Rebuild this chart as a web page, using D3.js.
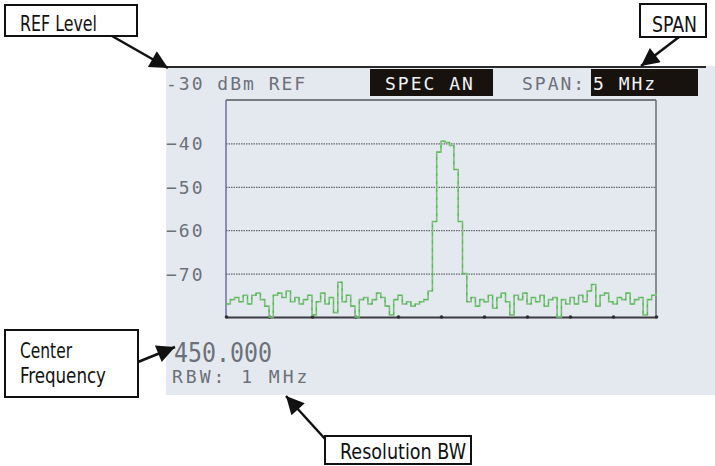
<!DOCTYPE html>
<html>
<head>
<meta charset="utf-8">
<script src="https://cdn.jsdelivr.net/npm/d3@7"></script>
<style>
  body { margin: 0; background: #fff; }
  .lcd { font-family: "DejaVu Sans Mono", monospace; fill: #6c7079; }
  .callout { font-family: "Liberation Sans Narrow", "DejaVu Sans Condensed", "Roboto", sans-serif; font-size: 22px; fill: #111; }
</style>
</head>
<body>
<svg id="chart" width="715" height="466"></svg>
<script>
// sweep: 450 MHz centre, 5 MHz span, 101 bins
const centerMHz = 450;
const spanMHz = 5;
const binCount = 101;

// trace level per bin (dBm)
const traceDbm = [
  -77, -76, -75.5, -76.5, -75, -77, -75, -74.5, -76, -77.5,
  -80, -75, -74.5, -75.5, -74, -76.5, -75.5, -77, -76, -75,
  -79.5, -76.5, -74.5, -77, -75.5, -79, -72, -76.5, -75, -77.5,
  -80, -76, -75.5, -77, -76, -74.5, -75.5, -77.5, -79.5, -76,
  -75, -77, -76.5, -77.5, -77, -76.5, -76, -74, -58, -42,
  -39.5, -39.8, -40.5, -46, -58, -70, -76.5, -75.5, -77.5, -76,
  -76.5, -75, -78, -75.5, -74.5, -76.5, -79.5, -75, -76, -74.5,
  -77, -75.5, -76.5, -75, -77.5, -76, -75.5, -80, -76, -77,
  -75.5, -77, -75, -76.5, -74, -72.5, -77.5, -75, -74.5, -76.5,
  -77, -75.5, -76, -74.5, -77, -76, -75.5, -79.5, -76, -75,
  -74.5
];

const refLevel = -30;
const gridLevels = [-40, -50, -60, -70];
const bottomLevel = -80;
const divTicks = [447.5, 448, 448.5, 449, 449.5, 450, 450.5, 451, 451.5, 452, 452.5];

const headerText = "-30 dBm REF";
const modeText = "SPEC AN";
const spanText = "SPAN:";
const spanValue = "5 MHz";
const centerText = "450.000";
const rbwText = "RBW: 1 MHz";

const freqs = d3.range(binCount).map(i => centerMHz - spanMHz / 2 + i * spanMHz / (binCount - 1));
const points = freqs.map((f, i) => ({ f: f, db: traceDbm[i] }));

const svg = d3.select("#chart");

// screen
svg.append("rect")
  .attr("x", 166).attr("y", 66)
  .attr("width", 549).attr("height", 329)
  .style("fill", "#e4e9ef");
svg.append("line")
  .attr("x1", 166).attr("x2", 706)
  .attr("y1", 67).attr("y2", 67)
  .style("stroke", "#2a2a2a").style("stroke-width", "2px");

const plot = { left: 226, right: 656, top: 100, bottom: 317 };
const x = d3.scaleLinear()
  .domain([centerMHz - spanMHz / 2, centerMHz + spanMHz / 2])
  .range([plot.left, plot.right]);
const y = d3.scaleLinear()
  .domain([bottomLevel, refLevel])
  .range([plot.bottom, plot.top]);

// header bar
svg.append("text").attr("class", "lcd")
  .attr("x", 166).attr("y", 90)
  .style("font-size", "18px").style("letter-spacing", "2px")
  .text(headerText);
svg.append("rect")
  .attr("x", 370).attr("y", 69).attr("width", 123).attr("height", 27)
  .style("fill", "#18120e");
svg.append("text").attr("class", "lcd")
  .attr("x", 385).attr("y", 90)
  .style("font-size", "18px").style("letter-spacing", "2px")
  .style("fill", "#f2f2f2")
  .text(modeText);
svg.append("rect")
  .attr("x", 591).attr("y", 69).attr("width", 107).attr("height", 27)
  .style("fill", "#18120e");
svg.append("text").attr("class", "lcd")
  .attr("x", 522).attr("y", 90)
  .style("font-size", "18px").style("letter-spacing", "2px")
  .text(spanText);
svg.append("text").attr("class", "lcd")
  .attr("x", 593).attr("y", 90)
  .style("font-size", "18px").style("letter-spacing", "2px")
  .style("fill", "#f2f2f2")
  .text(spanValue);

// graticule frame
svg.append("line")
  .attr("x1", plot.left).attr("x2", plot.right)
  .attr("y1", plot.top).attr("y2", plot.top)
  .style("stroke", "#55575d").style("stroke-width", "1.5px");
svg.append("line")
  .attr("x1", plot.left).attr("x2", plot.left)
  .attr("y1", plot.top).attr("y2", plot.bottom)
  .style("stroke", "#6d6ea0").style("stroke-width", "1.5px");
svg.append("line")
  .attr("x1", plot.right).attr("x2", plot.right)
  .attr("y1", plot.top).attr("y2", plot.bottom)
  .style("stroke", "#6a6c72").style("stroke-width", "1.5px");

// level grid + labels
const yAxis = svg.append("g")
  .attr("transform", `translate(${plot.left},0)`)
  .call(d3.axisLeft(y).tickValues(gridLevels).tickSize(-(plot.right - plot.left)).tickFormat(d3.format("d")));
yAxis.select(".domain").remove();
yAxis.selectAll(".tick line")
  .style("stroke", "#65676d").style("stroke-width", "1.2px").style("stroke-dasharray", "1.5,1");
yAxis.selectAll(".tick text")
  .attr("class", "lcd")
  .attr("x", -60).attr("dy", "0.36em")
  .attr("text-anchor", "start")
  .style("font-size", "18px").style("letter-spacing", "2px")
  .style("font-family", null);

// frequency axis
const xAxis = svg.append("g")
  .attr("transform", `translate(0,${plot.bottom})`)
  .call(d3.axisBottom(x).tickValues(divTicks).tickSize(0).tickFormat(""));
xAxis.select(".domain").style("stroke", "#3a3b40").style("stroke-width", "2px");
xAxis.selectAll(".tick").append("circle")
  .attr("r", 1.8).style("fill", "#2e2f33");

// trace
const line = d3.line()
  .x(d => x(d.f))
  .y(d => y(d.db))
  .curve(d3.curveStepAfter);
svg.append("path")
  .datum(points)
  .attr("d", line)
  .style("fill", "none")
  .style("stroke", "#80bd80")
  .style("stroke-width", "1.6px");
svg.append("path")
  .datum(points)
  .attr("d", line)
  .style("fill", "none")
  .style("stroke", "#3fc23f")
  .style("stroke-width", "1px")
  .style("stroke-dasharray", "3,5");

// bottom readouts
svg.append("text").attr("class", "lcd")
  .attr("x", 174).attr("y", 362)
  .attr("textLength", 98).attr("lengthAdjust", "spacingAndGlyphs")
  .style("font-size", "27px")
  .text(centerText);
svg.append("text").attr("class", "lcd")
  .attr("x", 172).attr("y", 383)
  .style("font-size", "18px").style("letter-spacing", "3px")
  .text(rbwText);

// callouts
const defs = svg.append("defs");
defs.append("marker")
  .attr("id", "head")
  .attr("viewBox", "0 0 10 10")
  .attr("refX", 10).attr("refY", 5)
  .attr("markerUnits", "userSpaceOnUse")
  .attr("markerWidth", 22).attr("markerHeight", 18)
  .attr("orient", "auto")
  .append("path").attr("d", "M0,0L10,5L0,10z").style("fill", "#111");

const arrows = [
  [112, 36, 168, 68],
  [679, 37, 641, 66],
  [138, 362, 175, 347],
  [326, 440, 286, 396]
];
svg.selectAll(".arrow")
  .data(arrows)
  .enter().append("line")
  .attr("class", "arrow")
  .attr("x1", d => d[0]).attr("y1", d => d[1])
  .attr("x2", d => d[2]).attr("y2", d => d[3])
  .attr("marker-end", "url(#head)")
  .style("stroke", "#111").style("stroke-width", "2.5px");

// condensed face is not installed, so squeeze each label to its width in the photo
const boxes = [
  { x: 5, y: 5, w: 132, h: 31, lines: ["REF Level"], widths: [77] },
  { x: 640, y: 4, w: 66, h: 33, lines: ["SPAN"], widths: [45] },
  { x: 5, y: 330, w: 133, h: 67, lines: ["Center", "Frequency"], widths: [52, 86] },
  { x: 325, y: 436, w: 146, h: 28, lines: ["Resolution BW"], widths: [126] }
];
boxes.forEach(b => {
  svg.append("rect")
    .attr("x", b.x).attr("y", b.y).attr("width", b.w).attr("height", b.h)
    .style("fill", "#fff").style("stroke", "#111").style("stroke-width", "2px");
  b.lines.forEach((t, i) => {
    svg.append("text").attr("class", "callout")
      .attr("x", b.x + (b.w < 80 ? 12 : 15))
      .attr("y", b.y + (b.lines.length > 1 ? 28 + i * 25 : b.h - 5))
      .attr("textLength", b.widths[i])
      .attr("lengthAdjust", "spacingAndGlyphs")
      .text(t);
  });
});
</script>
</body>
</html>
